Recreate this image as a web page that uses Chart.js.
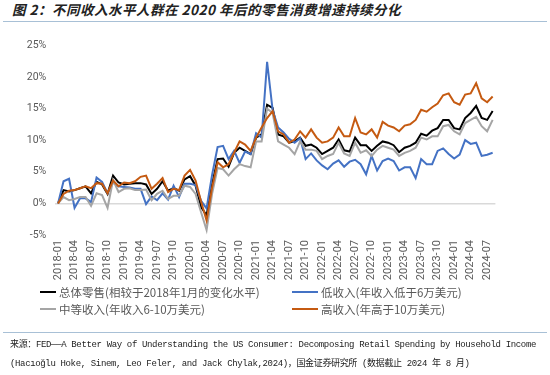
<!DOCTYPE html>
<html><head><meta charset="utf-8">
<script src="https://cdn.jsdelivr.net/npm/chart.js@4"></script>
<style>
body{margin:0;width:550px;height:375px;background:#fff;position:relative;overflow:hidden;font-family:"Noto Sans CJK SC",sans-serif;}
#title{position:absolute;left:12px;top:0px;font-size:13.5px;font-weight:bold;font-style:italic;color:#222;white-space:nowrap;line-height:18px;letter-spacing:0.5px;}
#tline{position:absolute;left:3px;width:544px;top:21px;height:0;border-top:1px solid #A8C0D6;}
#wrap{position:absolute;left:0;top:30px;width:550px;height:258px;}
#legend{position:absolute;left:0;top:0;width:550px;height:375px;pointer-events:none;}
.lg{position:absolute;font-size:11.5px;color:#595959;white-space:nowrap;line-height:14px;height:14px;}
.lg i{position:absolute;left:0;display:block;}
.lg span{position:absolute;top:0;}
#fline{position:absolute;left:3px;width:544px;top:332px;border-top:1px solid #A8C0D6;}
.ft{position:absolute;left:10px;font-family:"Liberation Mono","Noto Sans CJK SC",monospace;font-size:9px;letter-spacing:-0.35px;color:#222;white-space:nowrap;line-height:12px;}
</style></head>
<body>
<div id="title">图 2：不同收入水平人群在 2020 年后的零售消费增速持续分化</div>
<div id="tline"></div>
<div id="wrap"><canvas id="c" width="550" height="258"></canvas></div>
<div id="legend"></div>
<div id="fline"></div>
<div class="ft" style="top:339px">来源：FED——A Better Way of Understanding the US Consumer: Decomposing Retail Spending by Household Income</div>
<div class="ft" style="top:358px">(Hacıoğlu Hoke, Sinem, Leo Feler, and Jack Chylak,2024)，国金证券研究所 (数据截止 2024 年 8 月)</div>
<script>
const months = [
"2018-01","2018-02","2018-03","2018-04","2018-05","2018-06","2018-07","2018-08","2018-09","2018-10","2018-11","2018-12",
"2019-01","2019-02","2019-03","2019-04","2019-05","2019-06","2019-07","2019-08","2019-09","2019-10","2019-11","2019-12",
"2020-01","2020-02","2020-03","2020-04","2020-05","2020-06","2020-07","2020-08","2020-09","2020-10","2020-11","2020-12",
"2021-01","2021-02","2021-03","2021-04","2021-05","2021-06","2021-07","2021-08","2021-09","2021-10","2021-11","2021-12",
"2022-01","2022-02","2022-03","2022-04","2022-05","2022-06","2022-07","2022-08","2022-09","2022-10","2022-11","2022-12",
"2023-01","2023-02","2023-03","2023-04","2023-05","2023-06","2023-07","2023-08","2023-09","2023-10","2023-11","2023-12",
"2024-01","2024-02","2024-03","2024-04","2024-05","2024-06","2024-07","2024-08"];
const tickLabels = ["2018-01","2018-04","2018-07","2018-10","2019-01","2019-04","2019-07","2019-10","2020-01","2020-04","2020-07","2020-10","2021-01","2021-04","2021-07","2021-10","2022-01","2022-04","2022-07","2022-10","2023-01","2023-04","2023-07","2023-10","2024-01","2024-04","2024-07"];
const seriesNames = ["总体零售(相较于2018年1月的变化水平)","低收入(年收入低于6万美元)","中等收入(年收入6-10万美元)","高收入(年高于10万美元)"];
const total = [0,2.1,1.9,2.1,2.4,2.7,1.6,3.4,3.0,1.5,4.4,3.3,
3.0,3.1,3.2,3.2,3.0,1.5,2.3,3.5,2.0,2.4,2.0,3.8,
4.3,2.8,-0.6,-1.9,3.0,7.0,7.1,5.8,8.0,8.8,8.3,7.8,
10.4,10.9,15.6,15.1,10.9,10.6,9.6,9.8,10.4,9.1,9.3,8.8,
7.8,8.3,8.8,10.1,8.4,8.2,10.4,9.2,9.2,8.3,9.1,9.8,
9.6,9.2,8.1,8.8,9.1,9.6,11.0,10.7,11.5,11.9,13.2,13.2,
11.9,11.7,13.5,14.3,15.4,13.5,13.2,14.6];
const low = [0,3.5,3.9,-0.7,0.8,0.8,0.2,4.1,3.4,1.6,3.3,2.7,
2.6,2.5,2.3,2.3,-0.1,1.1,0.5,1.6,0.6,2.8,1.0,3.1,
3.1,2.9,0.4,-0.8,4.5,8.9,9.1,7.0,8.3,6.4,8.2,7.8,
11.1,10.4,22.4,14.8,12.0,11.2,10.2,9.6,10.3,7.0,7.9,6.8,
6.0,5.4,6.3,6.8,5.8,6.6,6.9,6.2,4.6,7.5,5.2,6.7,
7.1,6.7,5.2,5.7,5.7,4.0,7.0,6.2,6.2,8.3,8.7,7.8,
7.1,7.7,10.0,9.4,9.6,7.5,7.7,8.0];
const middle = [0,1.0,0.5,0.7,1.0,1.0,-0.4,1.6,1.3,-0.7,3.7,1.8,
2.3,2.4,2.1,2.1,2.2,0.5,1.5,2.0,0.7,1.2,1.2,2.8,
2.6,1.5,-1.4,-4.2,1.5,5.6,5.4,4.4,5.4,6.2,5.9,5.7,
9.8,9.8,15.0,14.3,9.8,9.3,8.8,7.8,9.8,8.5,8.5,8.3,
7.0,7.5,7.8,9.6,7.9,7.5,9.6,8.0,8.4,7.5,8.5,9.1,
8.8,8.5,7.5,8.0,8.3,8.8,10.4,10.1,10.6,10.6,12.2,12.4,
11.4,10.9,12.7,13.2,13.7,12.2,11.4,13.2];
const high = [0,1.5,2.0,2.1,2.4,2.7,2.4,3.2,3.1,1.6,3.6,2.7,
3.3,3.2,3.5,4.2,4.4,2.3,3.1,4.0,1.8,2.3,2.1,4.4,
5.3,3.6,0.3,-2.7,2.5,6.5,5.7,6.2,8.0,9.8,9.3,8.3,
10.4,12.0,13.5,14.6,11.4,10.9,9.6,10.1,11.4,10.4,11.7,10.4,
9.6,9.8,10.4,12.0,10.6,10.6,13.5,11.2,10.9,11.7,10.4,12.9,
12.3,12.0,11.4,12.3,12.5,13.2,14.8,14.5,15.2,15.8,17.1,17.4,
16.0,15.6,17.2,17.4,19.0,16.6,16.0,16.9];
const colors = ["#000000","#4472C4","#A5A5A5","#C55A11"];
const yTicks = [-5,0,5,10,15,20,25];

const seriesData = [total, low, middle, high];
const drawOrder = [3,2,1,0];
const datasets = seriesData.map((d,i)=>({
  label: seriesNames[i], data: d, borderColor: colors[i], backgroundColor: colors[i],
  borderWidth: 2, pointRadius: 0, tension: 0, fill: false, order: drawOrder[i]
}));

const chart = new Chart(document.getElementById('c'), {
  type: 'line',
  data: { labels: months, datasets },
  options: {
    responsive: false, animation: false, devicePixelRatio: 1,
    layout: { padding: { top: 13, right: 54.6, left: 0, bottom: 0 } },
    plugins: { legend: { display: false }, tooltip: { enabled: false } },
    scales: {
      x: {
        offset: true,
        grid: { display: false, drawTicks: false },
        border: { display: false },
        ticks: {
          autoSkip: false, minRotation: 90, maxRotation: 90, padding: 5,
          color: '#595959', font: { family: 'Roboto', size: 11 },
          callback: (v, i) => tickLabels.includes(months[i]) ? months[i] : null
        },
        afterFit: s => { s.height = 53; }
      },
      y: {
        min: yTicks[0], max: yTicks[yTicks.length-1],
        afterBuildTicks: s => { s.ticks = yTicks.map(v => ({ value: v })); },
        ticks: { padding: 9, color: '#595959', font: { family: 'Roboto', size: 10.5 }, callback: v => v + '%' },
        grid: { drawTicks: false, lineWidth: 1.5, color: c => (c.tick && c.tick.value === 0) ? '#D9D9D9' : 'rgba(0,0,0,0)' },
        border: { display: false },
        afterFit: s => { s.width = 55.3; }
      }
    }
  }
});

// HTML legend built from datasets
const lg = document.getElementById('legend');
const pos = [
  { lx: 40, lw: 16, tx: 59, y: 292, th: 2.5 },
  { lx: 292, lw: 26, tx: 321, y: 292, th: 2.5 },
  { lx: 40, lw: 16, tx: 59, y: 309, th: 1.5 },
  { lx: 292, lw: 26, tx: 321, y: 309, th: 2.5 }
];
chart.data.datasets.forEach((ds, i) => {
  const p = pos[i];
  const d = document.createElement('div');
  d.className = 'lg';
  d.style.left = p.lx + 'px';
  d.style.top = (p.y - 7) + 'px';
  const ln = document.createElement('i');
  ln.style.width = p.lw + 'px';
  ln.style.height = p.th + 'px';
  ln.style.top = (7 - p.th / 2) + 'px';
  ln.style.background = ds.borderColor;
  const t = document.createElement('span');
  t.style.left = (p.tx - p.lx) + 'px';
  t.textContent = ds.label;
  d.appendChild(ln); d.appendChild(t);
  lg.appendChild(d);
});
</script>
</body></html>
